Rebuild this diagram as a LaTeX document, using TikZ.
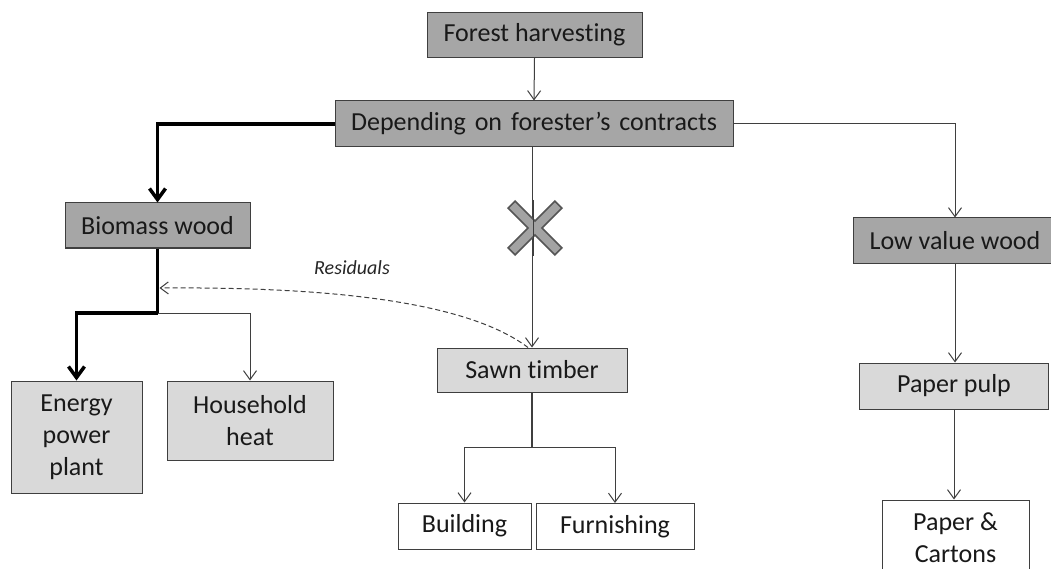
\documentclass[tikz,border=0pt]{standalone}
\usepackage{fontspec}
\setmainfont{Carlito}[Ligatures={NoCommon}]
\usetikzlibrary{arrows.meta,calc}
\definecolor{boxdark}{HTML}{A6A6A6}
\definecolor{boxlight}{HTML}{D9D9D9}
\definecolor{edgecol}{HTML}{3F3F3F}
\definecolor{crossfill}{HTML}{A3A3A3}
\definecolor{crossedge}{HTML}{555555}
\tikzset{
  basebox/.style={draw=edgecol, line width=1pt, inner sep=0pt, align=center,
    font=\fontsize{26}{32}\selectfont, text=black!90},
  darkbox/.style={basebox, fill=boxdark},
  lightbox/.style={basebox, fill=boxlight},
  whitebox/.style={basebox, fill=white},
  thin/.style={draw=edgecol, line width=1pt},
  thinarrow/.style={thin, -{Straight Barb[length=9pt,width=13pt]}},
  thickline/.style={draw=black, line width=3.5pt},
  thickarrow/.style={thickline, -{Straight Barb[length=11pt,width=16pt]}},
  residarrow/.style={draw=edgecol, line width=1pt, dash pattern=on 5pt off 3pt,
    -{Straight Barb[length=8pt,width=12pt]}},
  residlabel/.style={font=\fontsize{20}{24}\selectfont\itshape, text=black!85, inner sep=0pt},
}
\begin{document}
\begin{tikzpicture}[x=1pt,y=-1pt]
\useasboundingbox (0,0) rectangle (1051,569);
\clip (0,0) rectangle (1051,569);
\fill[white] (0,0) rectangle (1051,569);

% nodes
\node[darkbox, minimum width=215pt, minimum height=45pt] (forest) at (534.5,35) {Forest harvesting};
\node[darkbox, minimum width=398pt, minimum height=46pt] (depend) at (534,124) {\spaceskip=9pt plus 2pt Depending on forester’s contracts};
\node[darkbox, minimum width=185pt, minimum height=45pt] (biomass) at (157.5,225.5) {Biomass wood};
\node[darkbox, minimum width=204pt, minimum height=45pt] (lowval) at (955,240.5) {Low value wood};
\node[lightbox, minimum width=131pt, minimum height=112pt] (energy) at (76.5,437) {Energy\\power\\plant};
\node[lightbox, minimum width=166pt, minimum height=79pt] (house) at (250,420.5) {Household\\heat};
\node[lightbox, minimum width=190pt, minimum height=44pt] (sawn) at (532,370) {Sawn timber};
\node[whitebox, minimum width=133pt, minimum height=46pt] (building) at (464.5,526) {Building};
\node[whitebox, minimum width=158pt, minimum height=46pt] (furnish) at (615,526.5) {Furnishing};
\node[lightbox, minimum width=189pt, minimum height=46pt] (pulp) at (954,386) {Paper pulp};
\node[whitebox, minimum width=147pt, minimum height=75pt] (cartons) at (955.5,537.5) {Paper \&\\Cartons};

% junctions
\coordinate (bsplit) at (157.5,313);
\coordinate (ssplit) at (532,447);
\coordinate (resid) at (159.5,288);

% connectors
\draw[thinarrow] (forest.south) -- (depend.north);
\draw[thickarrow] (depend.west) -| (biomass.north);
\draw[thinarrow] (depend.east) -| (lowval.north);
\draw[thinarrow] (sawn.north |- depend.south) -- (sawn.north);

\draw[thickline] (biomass.south) -- (bsplit);
\draw[thickarrow] (bsplit) -| (energy.north);
\draw[thinarrow] (bsplit) -| (house.north);

\draw[thin, line width=1.3pt] (sawn.south) -- (ssplit);
\draw[thinarrow] (ssplit) -| (building.north);
\draw[thinarrow] (ssplit) -| (furnish.north);

\draw[thinarrow] (lowval.south) -- (lowval.south |- pulp.north);
\draw[thinarrow] (pulp.south) -- (pulp.south |- cartons.north);

% residuals
\draw[residarrow] ([xshift=-4pt]sawn.north) .. controls (460,296) and (300,287) .. (resid);
\node[residlabel] (residtext) at (352,268) {Residuals};

% cross
\begin{scope}[shift={(535,228)}, rotate=45]
  \draw[fill=crossfill, draw=crossedge, line width=1.6pt, line join=miter]
    (5,5) -- (33,5) -- (33,-5) -- (5,-5) -- (5,-33) -- (-5,-33) -- (-5,-5)
    -- (-33,-5) -- (-33,5) -- (-5,5) -- (-5,33) -- (5,33) -- cycle;
\end{scope}
\draw[draw=edgecol, line width=0.8pt] (533.5,200) -- (533.5,256);
\end{tikzpicture}
\end{document}
